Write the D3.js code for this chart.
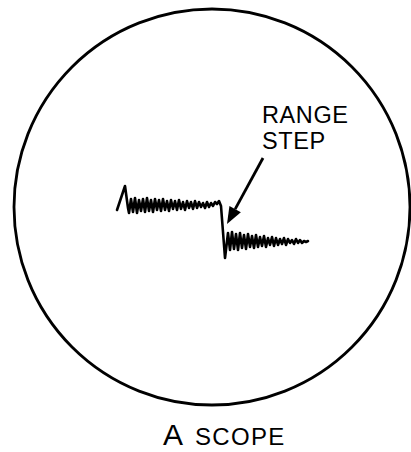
<!DOCTYPE html>
<html><head><meta charset="utf-8">
<script src="https://cdn.jsdelivr.net/npm/d3@7"></script>
<style>html,body{margin:0;padding:0;background:#fff;overflow:hidden}</style>
</head><body><svg id="c" width="411" height="452"></svg>
<script>
// Trace time (arbitrary units) and amplitude (arbitrary units)
const traceTime = [0,8,11,
  12,14,16,18,20,22,24,26,28,30,32,34,36,38,40,42,44,46,48,50,52,54,56,58,60,62,64,66,68,70,72,74,76,78,80,82,84,86,88,90,92,94,96,98,100,
  102,104,108,
  111,113,115,117,119,121,123,125,127,129,131,133,135,137,139,141,143,145,147,149,151,153,155,157,159,161,163,165,167,169,171,173,175,177,179,181,183,185,187,189,191];
const traceAmp = [50,74,52,
  47,61,48,62,47,60,49,61,48,62,49,60,48,61,50,60,49,61,50,59,49,60,51,59,50,60,51,58,50,59,52,58,51,59,52,58,53,57,52,58,53,57,54,58,56,
  59,54,2,
  27,10,28,11,26,10,27,12,25,11,26,13,24,12,25,13,23,14,24,13,22,15,23,14,22,15,21,16,22,15,21,17,20,16,21,17,20,17,19,18,19];
const arrowFrom = [146, 102];
const arrowTo = [110, 36];
const labelRange = ["RANGE", "STEP"];
const caption = ["A", "SCOPE"];

const svg = d3.select("#c");
const x = d3.scaleLinear().domain([0, 200]).range([117, 317]);
const y = d3.scaleLinear().domain([0, 100]).range([260, 160]);

// scope face
svg.append("circle").attr("cx", 212).attr("cy", 207).attr("r", 198)
  .attr("fill", "none").attr("stroke", "#000").attr("stroke-width", 2.8);

// trace
const pts = traceTime.map((t, i) => [t, traceAmp[i]]);
svg.append("path").datum(pts)
  .attr("d", d3.line().x(d => x(d[0])).y(d => y(d[1])))
  .attr("fill", "none").attr("stroke", "#000").attr("stroke-width", 2.6)
  .attr("stroke-linejoin", "round").attr("stroke-linecap", "round");

// arrow
const x1 = x(arrowFrom[0]), y1 = y(arrowFrom[1]), x2 = x(arrowTo[0]), y2 = y(arrowTo[1]);
const ang = Math.atan2(y2 - y1, x2 - x1);
const hl = 17, hw = 6.5;
const bx = x2 - hl * Math.cos(ang), by = y2 - hl * Math.sin(ang);
svg.append("line").attr("x1", x1).attr("y1", y1).attr("x2", bx).attr("y2", by)
  .attr("stroke", "#000").attr("stroke-width", 2.8);
svg.append("path").attr("d", `M${x2},${y2}L${bx + hw*Math.sin(ang)},${by - hw*Math.cos(ang)}L${bx - hw*Math.sin(ang)},${by + hw*Math.cos(ang)}Z`)
  .attr("fill", "#000");

// labels
const ff = "'Liberation Sans', Arial, Helvetica, sans-serif";
svg.append("text").attr("x", 262).attr("y", 123).attr("font-family", ff).attr("font-size", 23.5)
  .attr("letter-spacing", 0.6).text(labelRange[0]);
svg.append("text").attr("x", 262).attr("y", 149).attr("font-family", ff).attr("font-size", 23.5)
  .attr("letter-spacing", 0.6).text(labelRange[1]);
const cap = svg.append("text").attr("x", 163).attr("y", 445).attr("font-family", ff);
cap.append("tspan").attr("font-size", 30).text(caption[0]);
cap.append("tspan").attr("font-size", 24).attr("dx", 12).attr("letter-spacing", 1.3).text(caption[1]);
</script></body></html>
